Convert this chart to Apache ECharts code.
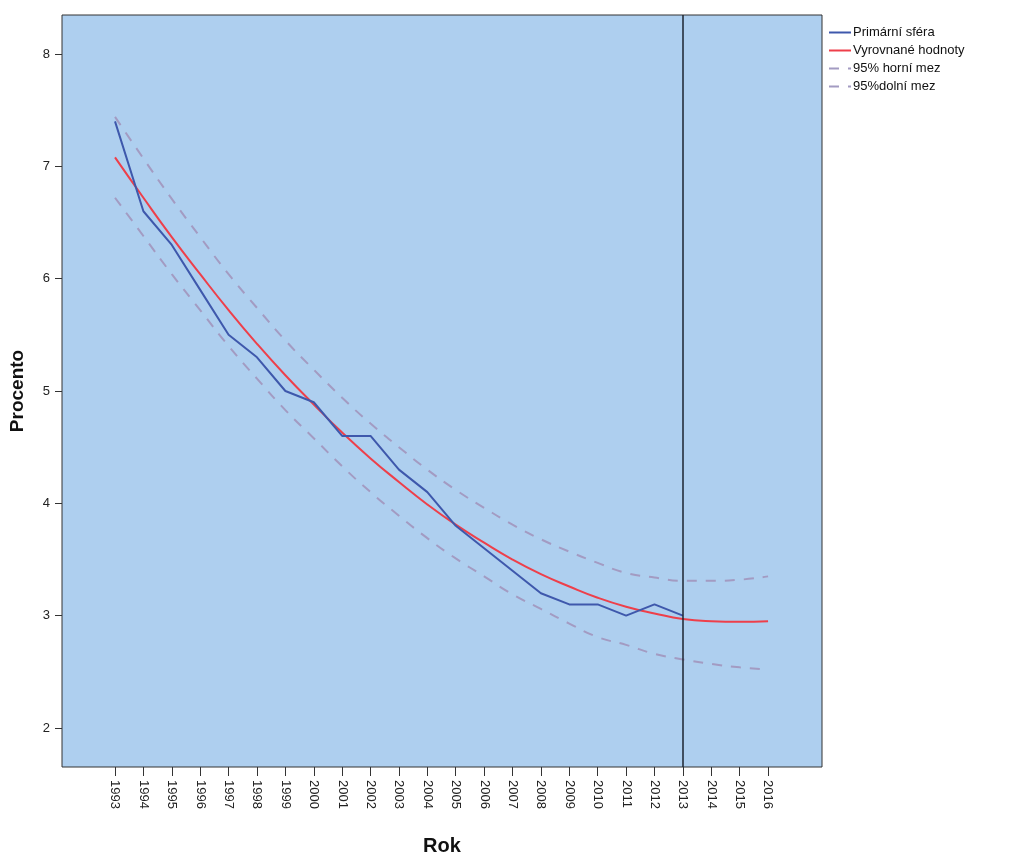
<!DOCTYPE html>
<html>
<head>
<meta charset="utf-8">
<script src="https://cdn.jsdelivr.net/npm/echarts@6/dist/echarts.min.js"></script>
<style>
  html, body { margin: 0; padding: 0; background: #fff; }
  #chart { width: 1035px; height: 863px; }
</style>
</head>
<body>
<div id="chart"></div>
<script>
const years = [1993, 1994, 1995, 1996, 1997, 1998, 1999, 2000, 2001, 2002, 2003, 2004,
  2005, 2006, 2007, 2008, 2009, 2010, 2011, 2012, 2013, 2014, 2015, 2016]
const primary = [7.4, 6.6, 6.3, 5.9, 5.5, 5.3, 5.0, 4.9, 4.6, 4.6, 4.3, 4.1,
  3.8, 3.6, 3.4, 3.2, 3.1, 3.1, 3.0, 3.1, 3.0]
const fitted = [7.08, 6.72, 6.37, 6.04, 5.72, 5.42, 5.14, 4.88, 4.63, 4.40, 4.19, 3.99,
  3.81, 3.65, 3.50, 3.37, 3.26, 3.16, 3.08, 3.02, 2.97, 2.95, 2.945, 2.95]
const upper = [7.44, 7.07, 6.71, 6.37, 6.04, 5.74, 5.45, 5.19, 4.94, 4.71, 4.50, 4.30,
  4.12, 3.96, 3.81, 3.68, 3.57, 3.47, 3.38, 3.34, 3.31, 3.31, 3.32, 3.35]
const lower = [6.72, 6.38, 6.04, 5.72, 5.40, 5.11, 4.83, 4.58, 4.33, 4.10, 3.89, 3.69,
  3.51, 3.35, 3.19, 3.06, 2.93, 2.81, 2.74, 2.66, 2.61, 2.57, 2.54, 2.52]
const yTicks = [2, 3, 4, 5, 6, 7, 8]
const cutYear = 2013

const pairs = (vals) => vals.map((v, i) => [years[i], v])

const chartDom = document.getElementById('chart')
const myChart = echarts.init(chartDom)

const font = 'Liberation Sans, Arial, sans-serif'
const boundColor = '#A39BC2'

const option = {
  animation: false,
  textStyle: { fontFamily: font },
  grid: {
    left: 62,
    top: 15,
    width: 760,
    height: 752,
    containLabel: false,
    outerBoundsMode: 'none',
    show: true,
    backgroundColor: '#AECFEF',
    borderColor: '#333',
    borderWidth: 1,
  },
  legend: {
    orient: 'vertical',
    left: 823,
    top: 21,
    itemWidth: 22,
    itemHeight: 12,
    itemGap: 5,
    itemStyle: { opacity: 0 },
    textStyle: { fontSize: 13, lineHeight: 13, color: '#111', fontFamily: font, padding: [0, 0, 0, -3] },
    data: ['Primární sféra', 'Vyrovnané hodnoty', '95% horní mez', '95%dolní mez'],
  },
  xAxis: {
    type: 'value',
    min: 1991.133,
    max: 2017.9,
    name: 'Rok',
    nameLocation: 'middle',
    nameGap: 69,
    nameTextStyle: { fontSize: 20, fontWeight: 'bold', color: '#111', fontFamily: font },
    axisLine: { show: false },
    splitLine: { show: false },
    axisTick: {
      show: true,
      length: 9,
      lineStyle: { color: '#333' },
      customValues: years,
    },
    axisLabel: {
      rotate: -90,
      fontSize: 13,
      color: '#222',
      margin: 13,
      customValues: years,
      formatter: (v) => String(v),
    },
  },
  yAxis: {
    type: 'value',
    min: 1.653,
    max: 8.347,
    name: 'Procento',
    nameLocation: 'middle',
    nameGap: 35,
    nameTextStyle: { fontSize: 19, fontWeight: 'bold', color: '#111', fontFamily: font },
    axisLine: { show: false },
    splitLine: { show: false },
    axisTick: {
      show: true,
      length: 7,
      lineStyle: { color: '#333' },
      customValues: yTicks,
    },
    axisLabel: {
      fontSize: 13,
      color: '#222',
      margin: 12,
      customValues: yTicks,
    },
  },
  series: [
    {
      name: '95% horní mez',
      type: 'line',
      data: pairs(upper),
      symbol: 'none',
      smooth: true,
      itemStyle: { color: boundColor },
      lineStyle: { color: boundColor, width: 2, type: [10, 9] },
    },
    {
      name: '95%dolní mez',
      type: 'line',
      data: pairs(lower),
      symbol: 'none',
      smooth: true,
      itemStyle: { color: boundColor },
      lineStyle: { color: boundColor, width: 2, type: [10, 9] },
    },
    {
      name: 'Vyrovnané hodnoty',
      type: 'line',
      data: pairs(fitted),
      symbol: 'none',
      smooth: true,
      itemStyle: { color: '#EE3F4A' },
      lineStyle: { color: '#EE3F4A', width: 2 },
    },
    {
      name: 'Primární sféra',
      type: 'line',
      data: pairs(primary),
      symbol: 'none',
      itemStyle: { color: '#3E58AC' },
      lineStyle: { color: '#3E58AC', width: 2 },
      markLine: {
        silent: true,
        symbol: 'none',
        label: { show: false },
        lineStyle: { color: '#1c2430', width: 1.5, type: 'solid' },
        data: [{ xAxis: cutYear }],
      },
    },
  ],
}

option && myChart.setOption(option)
</script>
</body>
</html>
